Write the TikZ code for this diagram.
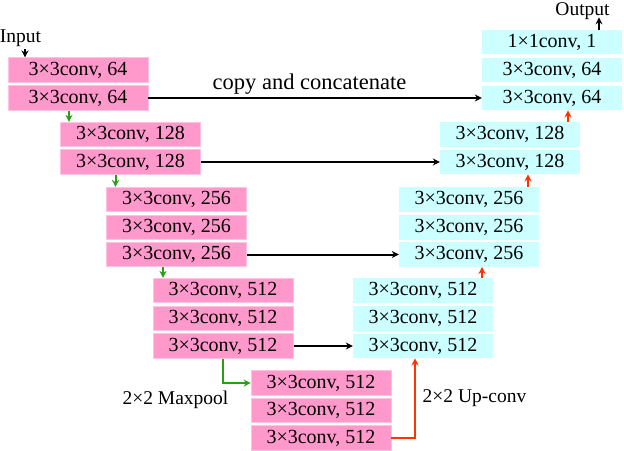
\documentclass[tikz,border=0pt]{standalone}
\usepackage{fontspec}
\setmainfont{Liberation Serif}
\usetikzlibrary{arrows.meta}
\definecolor{pinkbox}{HTML}{FF99CC}
\definecolor{cyanbox}{HTML}{CCFFFF}
\definecolor{garrow}{RGB}{40,160,20}
\definecolor{rarrow}{HTML}{FF3300}
\begin{document}
\begin{tikzpicture}[x=1pt,y=-1pt,
  conv/.style={minimum width=140pt,minimum height=24.5pt,inner sep=0pt,font=\fontsize{20}{23}\selectfont},
  enc/.style={conv,fill=pinkbox,draw=pinkbox!60!white,line width=0.6pt},
  dec/.style={conv,fill=cyanbox},
  lbl/.style={inner sep=0pt,font=\fontsize{19.5}{22}\selectfont},
  arr/.style={line width=2pt,-{Stealth[length=7pt,width=7pt]}},
  garr/.style={arr,draw=garrow},
  rarr/.style={arr,draw=rarrow}]
\useasboundingbox (0,0) rectangle (624,450);
% encoder
\node[enc] (L1a) at (78,70) {3×3conv, 64};
\node[enc] (L1b) at (78,98) {3×3conv, 64};
\node[enc] (L2a) at (130.5,134.5) {3×3conv, 128};
\node[enc] (L2b) at (130.5,162) {3×3conv, 128};
\node[enc] (L3a) at (176.5,199.5) {3×3conv, 256};
\node[enc] (L3b) at (176.5,227.5) {3×3conv, 256};
\node[enc] (L3c) at (176.5,254.5) {3×3conv, 256};
\node[enc] (L4a) at (223,290.5) {3×3conv, 512};
\node[enc] (L4b) at (223,318.5) {3×3conv, 512};
\node[enc] (L4c) at (223,346) {3×3conv, 512};
\node[enc] (L5a) at (321,383) {3×3conv, 512};
\node[enc] (L5b) at (321,410.5) {3×3conv, 512};
\node[enc] (L5c) at (321,438) {3×3conv, 512};
% decoder
\node[dec] (R1o) at (552,42) {1×1conv, 1};
\node[dec] (R1a) at (552,70) {3×3conv, 64};
\node[dec] (R1b) at (552,98) {3×3conv, 64};
\node[dec] (R2a) at (510,134.5) {3×3conv, 128};
\node[dec] (R2b) at (510,162) {3×3conv, 128};
\node[dec] (R3a) at (469,199.5) {3×3conv, 256};
\node[dec] (R3b) at (469,227.5) {3×3conv, 256};
\node[dec] (R3c) at (469,254.5) {3×3conv, 256};
\node[dec] (R4a) at (423,290.5) {3×3conv, 512};
\node[dec] (R4b) at (423,318.5) {3×3conv, 512};
\node[dec] (R4c) at (423,346) {3×3conv, 512};
% labels
\node[lbl,anchor=base] (in) at (20.5,42) {Input};
\node[lbl,anchor=base] (out) at (582.5,15) {Output};
\node[lbl,anchor=base,font=\fontsize{22.5}{26}\selectfont] (copy) at (309.5,89) {copy and concatenate};
\node[lbl,anchor=base] (mp) at (175.5,404) {2×2 Maxpool};
\node[lbl,anchor=base] (up) at (474.5,402) {2×2 Up-conv};
% input / output arrows
\draw[arr] ([xshift=4.5pt,yshift=-3pt]in.south) -- ([xshift=4.5pt]in.south |- L1a.north);
\draw[arr] ([xshift=47pt]R1o.north) -- ([xshift=47pt,yshift=2pt]R1o.north |- out.south);
% copy arrows
\draw[arr] (L1b.east) -- (R1b.west);
\draw[arr] (L2b.east) -- (R2b.west);
\draw[arr] (L3c.east) -- (R3c.west);
\draw[arr] ([xshift=1pt]L4c.east) -- (R4c.west);
% maxpool arrows
\draw[garr] ([xshift=-9pt]L1b.south) -- ([xshift=-9pt]L1b.south |- L2a.north);
\draw[garr] ([xshift=-15pt]L2b.south) -- ([xshift=-15pt]L2b.south |- L3a.north);
\draw[garr] ([xshift=-13.5pt]L3c.south) -- ([xshift=-13.5pt]L3c.south |- L4a.north);
\draw[garr] (L4c.south) |- (L5a.west);
% up-conv arrows
\draw[rarr] (L5c.east) -| ([xshift=-8pt]R4c.south);
\draw[rarr] ([xshift=59pt]R4a.north) -- ([xshift=59pt]R4a.north |- R3c.south);
\draw[rarr] ([xshift=59pt]R3a.north) -- ([xshift=59pt]R3a.north |- R2b.south);
\draw[rarr] ([xshift=58pt]R2a.north) -- ([xshift=58pt]R2a.north |- R1b.south);
\end{tikzpicture}
\end{document}
